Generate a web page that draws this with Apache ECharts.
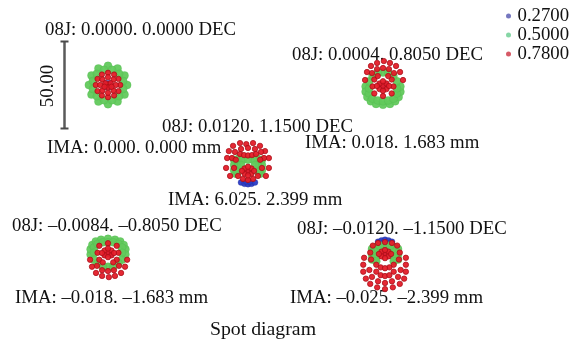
<!DOCTYPE html>
<html>
<head>
<meta charset="utf-8">
<script src="https://cdn.jsdelivr.net/npm/echarts@6/dist/echarts.min.js"></script>
<style>
  html, body { margin: 0; padding: 0; background: #fff; }
  #chart { width: 581px; height: 346px; }
</style>
</head>
<body>
<div id="chart"></div>
<script>
// Wavelengths (µm) traced for the spot diagram
const wavelengths = ['0.2700', '0.5000', '0.7800'];

// Field angle and image height captions, one per field
const fieldLabels = [
  '08J: 0.0000. 0.0000 DEC',
  '08J: 0.0004. 0.8050 DEC',
  '08J: 0.0120. 1.1500 DEC',
  '08J: –0.0084. –0.8050 DEC',
  '08J: –0.0120. –1.1500 DEC'
];
const imaLabels = [
  'IMA: 0.000. 0.000 mm',
  'IMA: 0.018. 1.683 mm',
  'IMA: 6.025. 2.399 mm',
  'IMA: –0.018. –1.683 mm',
  'IMA: –0.025. –2.399 mm'
];
const scaleBarLabel = '50.00';
const scaleBarRange = [-25, 25];   // µm, box half-width on each side
const titleText = 'Spot diagram';

// Ray intercepts relative to the chief ray, in µm: [dx, dy]
// Field 1 (on axis)
const f1Blue = [[0,0],[1,1],[-1,-1],[1,-1],[-1,1]];
const f1Green = [[11,0],[9.5,5.5],[5.5,9.5],[0,11],[-5.5,9.5],[-9.5,5.5],[-11,0],[-9.5,-5.5],[-5.5,-9.5],[0,-11],[5.5,-9.5],[9.5,-5.5],
  [8.7,2.3],[6.4,6.4],[2.3,8.7],[-2.3,8.7],[-6.4,6.4],[-8.7,2.3],[-8.7,-2.3],[-6.4,-6.4],[-2.3,-8.7],[2.3,-8.7],[6.4,-6.4],[8.7,-2.3]];
const f1Red = [[7,0],[6,3.5],[3.5,6],[0,7],[-3.5,6],[-6,3.5],[-7,0],[-6,-3.5],[-3.5,-6],[0,-7],[3.5,-6],[6,-3.5],
  [4.5,0],[3.2,3.2],[0,4.5],[-3.2,3.2],[-4.5,0],[-3.2,-3.2],[0,-4.5],[3.2,-3.2],
  [0,0],[1.5,1],[-1.5,1],[0,-1.5],[2,-1],[-2,-1]];

// Field 2 (+0.805)
const f2Blue = [[0,-1.7],[1.5,-1],[-1.5,-1],[0,-3]];
const f2Green = [[-10,-2],[-10,-5],[-9,-8],[-7,-10.5],[-4,-12],[0,-12.5],[4,-12],[7,-10.5],[9,-8],[10,-5],[10,-2],
  [-8,-6],[-6,-9],[-3,-10],[0,-10.5],[3,-10],[6,-9],[8,-6],[-8,-3],[8,-3],[-8,1],[8,1],[-6,4],[6,4],[0,6],[-3,6],[3,6]];
const f2Red = [[0.5,12.6],[-9.2,6.3],[-6.9,9.8],[-3.4,11.5],[4,11.5],[7.5,9.8],[9.8,6.3],[11.5,1.7],[-10.3,1.7],
  [-6.3,5.7],[-3.4,8],[0,8.6],[3.4,8],[6.3,5.7],
  [5,2],[-5,2],[6,-2],[-6,-2],[5,-6],[-5,-6],[0,-7.5],[3,4],[-3,4],
  [0,-1.7],[2,-0.3],[-2,-0.3],[2,-3.5],[-2,-3.5],[0,1],[0,-4.5],[3.5,-1.7],[-3.5,-1.7]];

// Field 3 (+1.15)
const f3Blue = [[-4,-10],[-2,-10.8],[0,-11],[2,-10.8],[4,-10],[-1,-9.5],[1,-9.5],[0,-4]];
const f3Green = [[-8,3],[-8,0],[-8,-3],[-7,-5],[-6,2],[-6,-1],[-6,-4],[-5,4],[8,3],[8,0],[8,-3],[7,-5],[6,2],[6,-1],[6,-4],[5,4],
  [-3,3],[3,3],[0,3],[-4,0],[4,0]];
const f3Red = [[-11,8],[-8.6,11],[-4.6,12.6],[-1,12],[2.9,12.6],[6.9,11],[9.8,8],[12,4],[12,-1.7],[10.3,-6.3],[-12.6,-1.7],[-12,4],[-10.3,-6.3],
  [-7.5,7.5],[-4,9.2],[0,9.8],[4,9.2],[7.5,7.5],[9.2,4],[-9.2,4],
  [-4.6,6.3],[-2.3,5.7],[0,5.5],[2.3,5.7],[4.6,6.3],
  [-7,3],[7,3],[-8,-1.7],[8,-1.7],[-5.7,-6.3],[5.7,-6.3],[-2.9,-8],[2.9,-8],[0,-8.6],
  [0,-3.4],[2,-2],[-2,-2],[2,-5],[-2,-5],[0,-1],[0,-6],[3.5,-3.4],[-3.5,-3.4]];

// Field 4 (−0.805)
const f4Blue = [[0,2.9],[1.5,2],[-1.5,2],[0,4]];
const f4Green = [[-10,2],[-10,5],[-9,7.5],[-7,9.5],[-4,10.5],[0,11],[4,10.5],[7,9.5],[9,7.5],[10,5],[10,2],
  [-8,6],[-6,8],[-3,9],[0,9],[3,9],[6,8],[8,6],[-8,3],[8,3],[-8,-1],[8,-1],[-6,-3],[6,-3],[0,-5],[-3,-5],[3,-5]];
const f4Red = [[-10.3,-1],[-9.2,-5],[-6.9,-8.6],[-3.4,-10.3],[0.5,-11],[4,-10.3],[7.5,-8.6],[9.8,-5],[11,-1],
  [-6.3,-4.5],[-3.4,-7],[0,-7.5],[3.4,-7],[6.3,-4.5],
  [5,-1],[-5,-1],[6,3],[-6,3],[5,7],[-5,7],[0,8.5],[3,-2.5],[-3,-2.5],
  [0,2.9],[2,4.3],[-2,4.3],[2,1.5],[-2,1.5],[0,5.5],[0,0.5],[3.5,2.9],[-3.5,2.9]];

// Field 5 (−1.15)
const f5Blue = [[-4,12.2],[-2,13],[0,13.4],[2,13],[4,12.2],[-1,11.5],[1,11.5],[0,6]];
const f5Green = [[-7.5,8],[-7.5,5],[-7.5,2],[-6,9],[-5.5,6],[-5.5,3],[-5,1],[-4,8],[7.5,8],[7.5,5],[7.5,2],[6,9],[5.5,6],[5.5,3],[5,1],[4,8],
  [0,9],[-3,10],[3,10]];
const f5Red = [[-12.5,-1],[-12.5,-5],[-11,-9],[-8.5,-12],[-4.5,-14],[0,-15],[4.5,-14],[8.5,-12],[11,-9],[12,-5],[12,-1],[-12,3],[12,3],
  [-9,-4],[-7.5,-8],[-4,-10.5],[0,-11.5],[4,-10.5],[7.5,-8],[9,-4],
  [-5,-5],[-2.5,-7],[0,-7.5],[2.5,-7],[5,-5],
  [-7,10],[7,10],[-4,11.5],[4,11.5],[0,12],[-8.5,6],[8.5,6],[-8,2],[8,2],[-5,-1],[5,-1],[-2.5,-2.5],[2.5,-2.5],[0,-3],
  [0,5.2],[2,6.5],[-2,6.5],[2,3.8],[-2,3.8],[0,7.5],[0,2.8],[3.5,5.2],[-3.5,5.2]];

const spots = [
  [f1Blue, f1Green, f1Red],
  [f2Blue, f2Green, f2Red],
  [f3Blue, f3Green, f3Red],
  [f4Blue, f4Green, f4Red],
  [f5Blue, f5Green, f5Red]
];

// ---- layout & styling ----
const BOX = 87;                       // px per 50 µm box
const boxOrigin = [[64.5, 41.5], [339.5, 39.5], [204.5, 121.5], [64.5, 214.5], [341.5, 219.5]];
const fieldLabelPos = [[45, 30], [292, 55], [162, 127], [12, 226], [297, 229]];
const imaLabelPos = [[47, 148], [305, 143], [168, 200], [15, 298], [290, 298]];
const waveColors = ['#2b3cc4', '#62c95c', '#e41c28'];
const waveBorders = ['#1c2690', '#4cb84a', '#a80e18'];
const waveSizes = [6, 8, 5.4];
const FONT = '"Liberation Serif", "Times New Roman", serif';

const grids = [], xAxes = [], yAxes = [], series = [];
boxOrigin.forEach((o, i) => {
  grids.push({ left: o[0], top: o[1], width: BOX, height: BOX });
  xAxes.push({ type: 'value', gridIndex: i, min: scaleBarRange[0], max: scaleBarRange[1], show: false });
  yAxes.push({ type: 'value', gridIndex: i, min: scaleBarRange[0], max: scaleBarRange[1], show: false });
  spots[i].forEach((pts, w) => {
    series.push({
      type: 'scatter',
      name: wavelengths[w],
      xAxisIndex: i, yAxisIndex: i,
      data: pts,
      symbol: 'circle',
      symbolSize: waveSizes[w],
      silent: true,
      itemStyle: { color: waveColors[w], borderColor: waveBorders[w], borderWidth: w === 2 ? 0.8 : 0.3, opacity: 0.95 }
    });
  });
});

// Scale bar on the left edge of the first box
series.push({
  type: 'line',
  name: 'scale',
  xAxisIndex: 0, yAxisIndex: 0,
  data: [[scaleBarRange[0], scaleBarRange[0]], [scaleBarRange[0], scaleBarRange[1]]],
  symbol: 'rect',
  symbolSize: [8, 2],
  showSymbol: true,
  clip: false,
  silent: true,
  lineStyle: { color: '#5a5a5a', width: 2.5 },
  itemStyle: { color: '#4a4a4a' }
});

const graphic = [];
fieldLabels.forEach((t, i) => {
  graphic.push({ type: 'text', x: fieldLabelPos[i][0], y: fieldLabelPos[i][1],
    style: { text: t, fill: '#111', font: '18.8px ' + FONT, align: 'left', verticalAlign: 'middle' } });
});
imaLabels.forEach((t, i) => {
  graphic.push({ type: 'text', x: imaLabelPos[i][0], y: imaLabelPos[i][1],
    style: { text: t, fill: '#111', font: '18.8px ' + FONT, align: 'left', verticalAlign: 'middle' } });
});
graphic.push({ type: 'text', x: 48, y: 86, rotation: Math.PI / 2,
  style: { text: scaleBarLabel, fill: '#111', font: '18.8px ' + FONT, align: 'center', verticalAlign: 'middle' } });
graphic.push({ type: 'text', x: 263, y: 330,
  style: { text: titleText, fill: '#111', font: '19.8px ' + FONT, align: 'center', verticalAlign: 'middle' } });

const chart = echarts.init(document.getElementById('chart'), null, { renderer: 'canvas' });
chart.setOption({
  backgroundColor: '#ffffff',
  animation: false,
  grid: grids,
  xAxis: xAxes,
  yAxis: yAxes,
  legend: {
    orient: 'vertical',
    left: 506,
    top: 6.5,
    padding: 0,
    itemGap: 0,
    itemWidth: 8,
    itemHeight: 5,
    icon: 'circle',
    selectedMode: false,
    data: [
      { name: wavelengths[0], itemStyle: { color: '#6e70bc', borderWidth: 0 } },
      { name: wavelengths[1], itemStyle: { color: '#80d4a0', borderWidth: 0 } },
      { name: wavelengths[2], itemStyle: { color: '#d4505e', borderWidth: 0 } }
    ],
    textStyle: { fontFamily: FONT, fontSize: 18.8, color: '#111', lineHeight: 17 }
  },
  graphic: graphic,
  series: series
});
</script>
</body>
</html>
